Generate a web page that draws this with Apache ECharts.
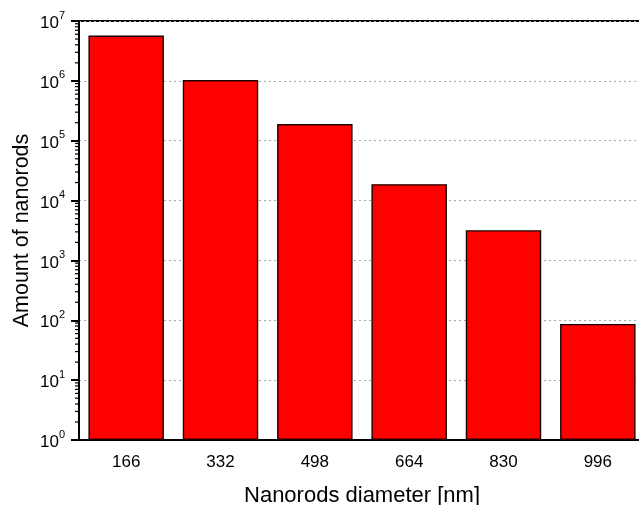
<!DOCTYPE html>
<html>
<head>
<meta charset="utf-8">
<script src="https://cdn.jsdelivr.net/npm/echarts@6/dist/echarts.min.js"></script>
<style>html,body{margin:0;padding:0;background:#fff;}#c{width:639px;height:505px;}</style>
</head>
<body>
<div id="c"></div>
<script>
var categories = ['166', '332', '498', '664', '830', '996'];
var amounts = [5700000, 1030000, 190000, 18800, 3200, 87];
var yMin = 1, yMax = 10000000;
var minorMultipliers = [2, 3, 4, 5, 6, 7, 8, 9];

var chart = echarts.init(document.getElementById('c'), null, {renderer: 'canvas'});
var FONT = '"Liberation Sans", Arial, sans-serif';

function supLabel(v) {
  var e = Math.round(Math.log10(v));
  return '{b|10}{s|' + e + '}';
}

chart.setOption({
  animation: false,
  backgroundColor: '#fff',
  grid: {left: 79, top: 21, width: 566, height: 419, containLabel: false, outerBoundsMode: 'none',
         show: true, borderColor: '#000', borderWidth: 2},
  xAxis: {
    type: 'category',
    data: categories,
    name: 'Nanorods diameter [nm]',
    nameLocation: 'middle',
    nameGap: 45,
    nameMoveOverlap: false,
    nameTextStyle: {fontFamily: FONT, fontSize: 22, color: '#000'},
    axisLine: {lineStyle: {color: '#000', width: 2}},
    axisTick: {alignWithLabel: true, length: 7, lineStyle: {color: '#000', width: 2}},
    axisLabel: {fontFamily: FONT, fontSize: 17, color: '#000', margin: 14},
    splitLine: {show: false}
  },
  yAxis: {
    type: 'log',
    logBase: 10,
    min: yMin,
    max: yMax,
    interval: 1,
    name: 'Amount of nanorods',
    nameLocation: 'middle',
    nameGap: 46,
    nameMoveOverlap: false,
    nameTextStyle: {fontFamily: FONT, fontSize: 21.5, color: '#000'},
    axisLine: {show: true, lineStyle: {color: '#000', width: 2}},
    axisTick: {show: true, length: 8, lineStyle: {color: '#000', width: 2}},
    axisLabel: {
      margin: 14,
      formatter: supLabel,
      rich: {
        b: {fontFamily: FONT, fontSize: 17, color: '#000', lineHeight: 22, verticalAlign: 'bottom'},
        s: {fontFamily: FONT, fontSize: 11, color: '#000', lineHeight: 22, verticalAlign: 'top'}
      }
    },
    splitLine: {show: true, lineStyle: {color: '#aaa', type: [2, 3], width: 1}}
  },
  series: [
    {
      type: 'bar',
      data: amounts,
      barCategoryGap: '20%',
      itemStyle: {color: '#ff0000', borderColor: '#1a0000', borderWidth: 1.4}
    },
    {
      type: 'custom',
      silent: true,
      clip: false,
      data: [[0, 1]],
      renderItem: function (params, api) {
        var x0 = params.coordSys.x;
        var children = [];
        for (var d = 1; d < yMax; d *= 10) {
          for (var i = 0; i < minorMultipliers.length; i++) {
            var y = api.coord([0, d * minorMultipliers[i]])[1];
            children.push({
              type: 'line',
              shape: {x1: x0 - 4, y1: y, x2: x0, y2: y},
              style: {stroke: '#000', lineWidth: 1.2}
            });
          }
        }
        return {type: 'group', children: children};
      }
    }
  ]
});
</script>
</body>
</html>
